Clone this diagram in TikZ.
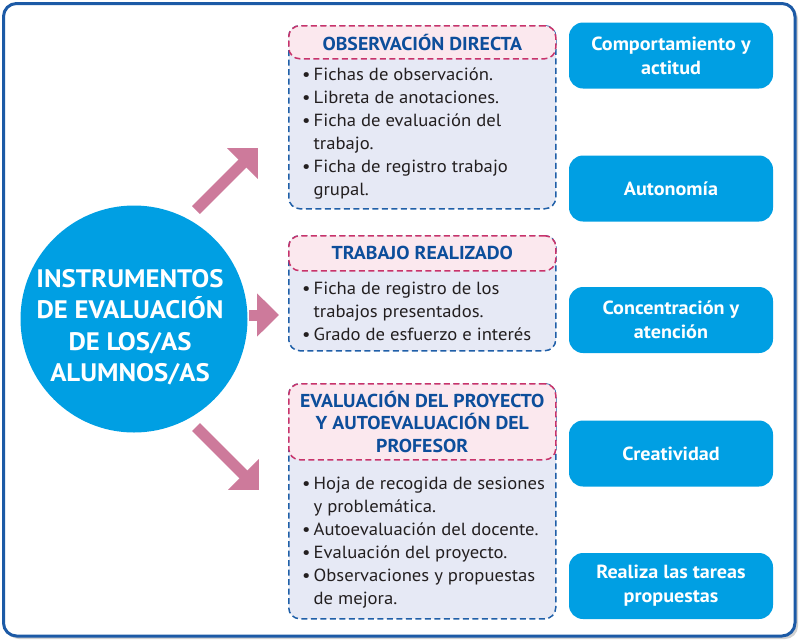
\documentclass[tikz,border=0pt]{standalone}
\usepackage{fontspec}
\setmainfont{PT Sans}[FakeStretch=1.06]
\usetikzlibrary{arrows.meta}
\definecolor{framblue}{RGB}{28,90,166}
\definecolor{instrcyan}{RGB}{0,159,227}
\definecolor{titleblue}{RGB}{13,78,155}
\definecolor{arrowpink}{RGB}{205,122,155}
\definecolor{headfill}{RGB}{251,232,238}
\definecolor{headred}{RGB}{200,51,107}
\definecolor{bodyfill}{RGB}{230,233,245}
\definecolor{bodyblue}{RGB}{31,95,168}
\definecolor{listgray}{RGB}{35,31,32}
\tikzstyle{bodybox}=[
        draw=bodyblue, fill=bodyfill,
        line width=1.5pt, dash pattern=on 6pt off 3.5pt,
        rounded corners=11pt, inner sep=0pt,
        minimum width=267pt, anchor=north west
]
\tikzstyle{headbox}=[
        draw=headred, fill=headfill,
        line width=1.5pt, dash pattern=on 6pt off 3.5pt,
        rounded corners=11pt, inner sep=0pt,
        minimum width=267pt, anchor=north,
        text=titleblue, align=center,
        font=\bfseries\fontsize{18.7}{22.5}\selectfont
]
\tikzstyle{listtext}=[
        anchor=base west, inner sep=0pt, text=listgray,
        font=\fontsize{17.6}{23}\selectfont
]
\tikzstyle{blob}=[
        fill=instrcyan, rounded corners=14pt,
        minimum width=204pt, minimum height=66pt,
        text=white, align=center,
        font=\bfseries\fontsize{19}{24}\selectfont
]
\tikzstyle{bigarrow}=[
        draw=arrowpink, line width=11pt,
        -{Triangle[length=22pt,width=42pt]}
]

\begin{document}
\begin{tikzpicture}[x=1pt,y=-1pt]
                    \useasboundingbox (0,0) rectangle (800,641);

                    % frame
                    \fill[black!18, rounded corners=13pt] (6,6) rectangle (798,639);
                    \draw[framblue, fill=white, line width=3pt, rounded corners=13pt] (3.5,3.5) rectangle (795,636);

                    \node[circle, fill=instrcyan, minimum size=227pt, inner sep=0pt] (instr) at (134,319) {};
                    \node[text=white, align=center, font=\bfseries\fontsize{25.3}{31.5}\selectfont] (instrtxt)
                        at ([xshift=-4pt,yshift=-8pt]instr.center) {INSTRUMENTOS\\DE EVALUACIÓN\\DE LOS/AS\\ALUMNOS/AS};

                    \node[bodybox, minimum height=183pt] (obs) at (288,25) {};
                    \node[headbox, minimum height=33pt] (obsh) at (obs.north) {OBSERVACIÓN DIRECTA};
                    \node[listtext] (obsl) at (302,80.5) {\begin{tabular}[t]{@{}l@{\hspace{3pt}}l@{}}
                        \textbullet & Fichas de observación.\\
                        \textbullet & Libreta de anotaciones.\\
                        \textbullet & Ficha de evaluación del\\
                                    & trabajo.\\
                        \textbullet & Ficha de registro trabajo\\
                                    & grupal.
                    \end{tabular}};

                    \node[bodybox, minimum height=115pt] (trab) at (288,235) {};
                    \node[headbox, minimum height=35pt] (trabh) at (trab.north) {TRABAJO REALIZADO};
                    \node[listtext] (trabl) at (302,294) {\begin{tabular}[t]{@{}l@{\hspace{3pt}}l@{}}
                        \textbullet & Ficha de registro de los\\
                                    & trabajos presentados.\\
                        \textbullet & Grado de esfuerzo e interés
                    \end{tabular}};

                    \node[bodybox, minimum height=235pt] (proy) at (288,383) {};
                    \node[headbox, minimum height=76pt] (proyh) at (proy.north) {EVALUACIÓN DEL PROYECTO\\Y AUTOEVALUACIÓN DEL\\PROFESOR};
                    \node[listtext] (proyl) at (302,489) {\begin{tabular}[t]{@{}l@{\hspace{3pt}}l@{}}
                        \textbullet & Hoja de recogida de sesiones\\
                                    & y problemática.\\
                        \textbullet & Autoevaluación del docente.\\
                        \textbullet & Evaluación del proyecto.\\
                        \textbullet & Observaciones y propuestas\\
                                    & de mejora.
                    \end{tabular}};

                    \foreach \y/\n/\t in {55.5/comp/{Comportamiento y\\actitud},
                                          188.5/auto/{Autonomía},
                                          320/conc/{Concentración y\\atención},
                                          453.5/crea/{Creatividad},
                                          586/real/{Realiza las tareas\\propuestas}} {
                        \node[blob] (\n) at (671,\y) {\t};
                    }

                    \coordinate (up0) at (196,210);
                    \coordinate (up1) at (258,148);
                    \coordinate (mid0) at (249,315);
                    \coordinate (mid1) at (279,315);
                    \coordinate (low0) at (196,427);
                    \coordinate (low1) at (259,490);

                    \draw[bigarrow] (up0) -- (up1);
                    \draw[bigarrow] (mid0) -- (mid1);
                    \draw[bigarrow] (low0) -- (low1);

                \end{tikzpicture}
\end{document}
